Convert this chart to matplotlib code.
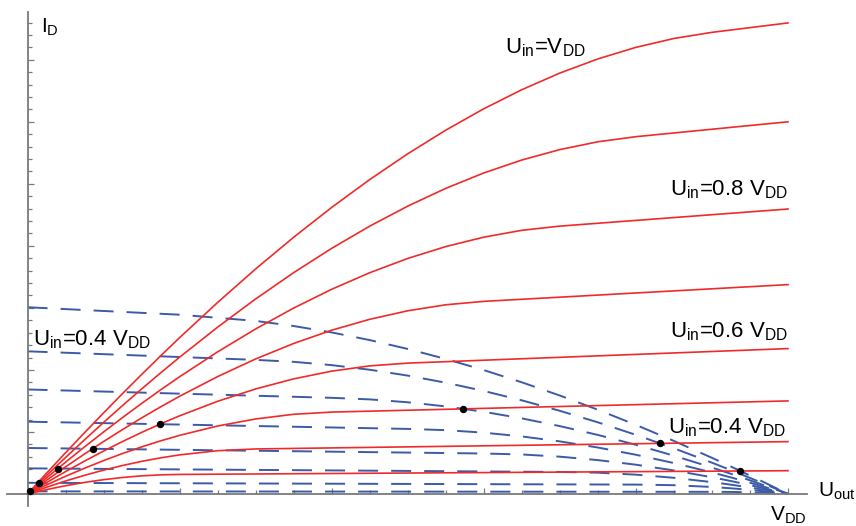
import matplotlib
matplotlib.use('Agg')
import matplotlib.pyplot as plt
from matplotlib.ticker import MultipleLocator, FixedLocator

plt.rcParams['font.family'] = ['Liberation Sans', 'DejaVu Sans']
plt.rcParams['mathtext.default'] = 'regular'

# U_out in units of V_DD, drain current in arbitrary units (10 per major tick)
x_n = [0, 0.025, 0.05, 0.075, 0.1, 0.125, 0.15, 0.175, 0.2, 0.25, 0.3, 0.35, 0.4,
       0.45, 0.5, 0.55, 0.6, 0.65, 0.7, 0.75, 0.8, 0.85, 0.9, 0.95, 1.0]
id_n10 = [0, 3.349, 6.645, 9.885, 13.069, 16.194, 19.259, 22.261, 25.2, 30.879, 36.281, 41.393, 46.2,
          50.688, 54.844, 58.652, 62.1, 65.173, 67.856, 70.137, 72.0, 73.432, 74.419, 75.178, 75.938]
id_n09 = [0, 2.972, 5.885, 8.739, 11.531, 14.260, 16.924, 19.521, 22.05, 26.895, 31.444, 35.684, 39.6,
          43.179, 46.406, 49.268, 51.75, 53.838, 55.519, 56.777, 57.6, 58.2, 58.8, 59.4, 60.0]
id_n08 = [0, 2.594, 5.126, 7.593, 9.994, 12.327, 14.590, 16.782, 18.9, 22.910, 26.606, 29.974, 33.0,
          35.670, 37.969, 39.884, 41.4, 42.504, 43.181, 43.641, 44.1, 44.559, 45.019, 45.478, 45.938]
id_n07 = [0, 2.217, 4.366, 6.447, 8.456, 10.393, 12.255, 14.042, 15.75, 18.926, 21.769, 24.265, 26.4,
          28.160, 29.531, 30.499, 31.05, 31.388, 31.725, 32.063, 32.4, 32.738, 33.075, 33.413, 33.75]
id_n06 = [0, 1.840, 3.607, 5.301, 6.919, 8.459, 9.921, 11.302, 12.6, 14.941, 16.931, 18.555, 19.8,
          20.651, 21.094, 21.328, 21.563, 21.797, 22.031, 22.266, 22.5, 22.734, 22.969, 23.203, 23.438]
id_n05 = [0, 1.462, 2.848, 4.155, 5.381, 6.526, 7.587, 8.562, 9.45, 10.957, 12.094, 12.846, 13.2,
          13.35, 13.5, 13.65, 13.8, 13.95, 14.1, 14.25, 14.4, 14.55, 14.7, 14.85, 15.0]
id_n04 = [0, 1.085, 2.088, 3.008, 3.844, 4.592, 5.252, 5.822, 6.3, 6.973, 7.256, 7.341, 7.425,
          7.509, 7.594, 7.678, 7.763, 7.847, 7.931, 8.016, 8.1, 8.184, 8.269, 8.353, 8.438]
id_n03 = [0, 0.708, 1.329, 1.862, 2.306, 2.659, 2.918, 3.082, 3.15, 3.188, 3.225, 3.263, 3.3,
          3.338, 3.375, 3.413, 3.45, 3.488, 3.525, 3.563, 3.6, 3.638, 3.675, 3.713, 3.75]

# load (dashed) curves
x_p = [0, 0.1, 0.2, 0.3, 0.35, 0.4, 0.45, 0.5, 0.55, 0.6, 0.65, 0.7, 0.75, 0.8, 0.85,
       0.9, 0.925, 0.95, 0.975, 1.0]
id_p03 = [30.103, 29.501, 28.899, 27.901, 27.075, 26.042, 24.807, 23.378, 21.763, 19.968, 18.000,
          15.868, 13.577, 11.135, 8.549, 5.826, 4.416, 2.974, 1.502, 0]
id_p04 = [22.998, 22.538, 22.078, 21.618, 21.302, 20.770, 20.027, 19.081, 17.938, 16.606, 15.092,
          13.404, 11.547, 9.530, 7.360, 5.043, 3.832, 2.588, 1.310, 0]
id_p05 = [16.848, 16.511, 16.174, 15.837, 15.668, 15.500, 15.247, 14.783, 14.113, 13.245, 12.184,
          10.940, 9.518, 7.926, 6.171, 4.260, 3.249, 2.201, 1.118, 0]
id_p06 = [11.653, 11.420, 11.187, 10.954, 10.837, 10.721, 10.604, 10.487, 10.289, 9.883, 9.276,
          8.476, 7.488, 6.321, 4.982, 3.477, 2.665, 1.814, 0.925, 0]
id_p07 = [7.413, 7.264, 7.116, 6.968, 6.894, 6.820, 6.745, 6.671, 6.597, 6.523, 6.368,
          6.012, 5.459, 4.717, 3.793, 2.694, 2.081, 1.427, 0.733, 0]
id_p08 = [4.127, 4.045, 3.962, 3.880, 3.838, 3.797, 3.756, 3.715, 3.673, 3.632, 3.591,
          3.549, 3.430, 3.113, 2.604, 1.911, 1.497, 1.040, 0.541, 0]
id_p09 = [1.797, 1.761, 1.725, 1.689, 1.671, 1.653, 1.635, 1.617, 1.599, 1.581, 1.563,
          1.546, 1.528, 1.510, 1.415, 1.128, 0.914, 0.654, 0.349, 0]
id_p10 = [0.422, 0.413, 0.405, 0.397, 0.392, 0.388, 0.384, 0.380, 0.376, 0.371, 0.367,
          0.363, 0.359, 0.354, 0.350, 0.346, 0.330, 0.267, 0.157, 0]

# operating points
dot_x = [0.003, 0.015, 0.04, 0.086, 0.174, 0.573, 0.832, 0.937]
dot_y = [0.42, 1.79, 4.1, 7.3, 11.25, 13.72, 8.15, 3.70]

labels = ['$U_{in}$=$V_{DD}$', '$U_{in}$=0.8 $V_{DD}$', '$U_{in}$=0.6 $V_{DD}$',
          '$U_{in}$=0.4 $V_{DD}$', '$U_{in}$=0.4 $V_{DD}$']
label_x = [0.628, 0.845, 0.845, 0.842, 0.007]
label_y = [71.1, 48.1, 25.3, 9.7, 24.0]

red = '#f02a2a'
blue = '#3b5ba9'
gray = '#7a7a7a'

fig = plt.figure(figsize=(8.56, 5.26), dpi=100)
ax = fig.add_axes([7 / 856, 20 / 526, 800 / 856, 494 / 526])
ax.set_xlim(-0.027, 1.025)
ax.set_ylim(-1.94, 77.7)

for yp in [id_p03, id_p04, id_p05, id_p06, id_p07, id_p08, id_p09, id_p10]:
    ax.plot(x_p, yp, color=blue, lw=1.4, dashes=(10.3, 6.7))

for yn in [id_n10, id_n09, id_n08, id_n07, id_n06, id_n05, id_n04, id_n03]:
    ax.plot(x_n, yn, color=red, lw=1.2)

ax.plot(dot_x, dot_y, 'o', color='black', ms=4.3, zorder=5)

for t, lx, ly in zip(labels, label_x, label_y):
    ax.text(lx, ly, t, fontsize=16, ha='left', va='baseline')

# axes through the origin
for s in ['top', 'right']:
    ax.spines[s].set_visible(False)
ax.spines['left'].set_position(('data', 0))
ax.spines['bottom'].set_position(('data', 0))
for s in ['left', 'bottom']:
    ax.spines[s].set_color(gray)
    ax.spines[s].set_linewidth(1.3)

ax.xaxis.set_major_locator(FixedLocator([0.2, 0.4, 0.6, 0.8, 1.0]))
ax.xaxis.set_minor_locator(MultipleLocator(0.05))
ax.yaxis.set_major_locator(MultipleLocator(10))
ax.yaxis.set_minor_locator(MultipleLocator(2))
ax.tick_params(which='both', direction='in', color=gray, width=0.9,
               labelleft=False, labelbottom=False)
ax.tick_params(which='major', length=4.5)
ax.tick_params(which='minor', length=3)

ax.text(0.018, 74.4, '$I_D$', fontsize=15, ha='left', va='baseline')
ax.text(1.039, -0.45, '$U_{out}$', fontsize=15, ha='left', va='baseline', clip_on=False)
ax.text(1.0, -4.3, '$V_{DD}$', fontsize=15, ha='center', va='baseline', clip_on=False)

fig.savefig('out.png', dpi=100)
